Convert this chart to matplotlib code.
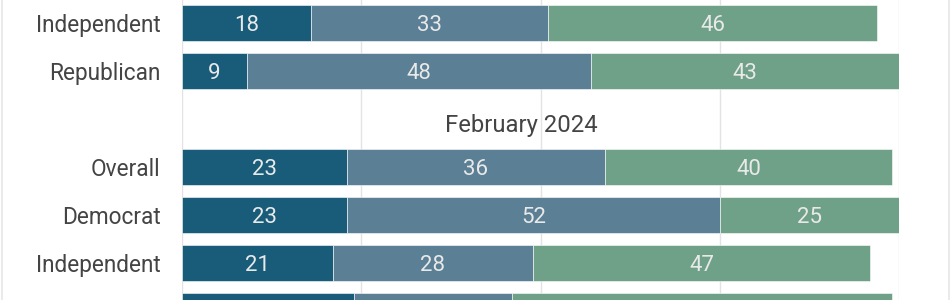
import matplotlib.pyplot as plt
from matplotlib.lines import Line2D

plt.rcParams['font.family'] = ['Roboto', 'DejaVu Sans']

# rows from top to bottom; None marks the section header row
rows = ['Independent', 'Republican', None, 'Overall', 'Democrat', 'Independent', 'Republican']
header = 'February 2024'
seg1 = [18, 9, None, 23, 23, 21, 24]
seg2 = [33, 48, None, 36, 52, 28, 22]
seg3 = [46, 43, None, 40, 25, 47, 53]

colors = ['#185c7a', '#5b7f94', '#6fa188']
txt_col = '#e9e9e9'
lab_col = '#444444'

fig = plt.figure(figsize=(9.5, 3), dpi=100)
ax = fig.add_axes([182 / 950, 0, 717 / 950, 1])

ax.set_xlim(0, 100)
ax.set_ylim((300 - 23) / 48, -23 / 48)

for x in [0, 25, 50, 75, 100]:
    ax.axvline(x, color='#e3e3e3', lw=1, zorder=0)

dy = 0.06  # text sits a little below bar centre
for i, name in enumerate(rows):
    if name is None:
        ax.text(47.3, i + 0.13, header, ha='center', va='center',
                fontsize=17.2, color=lab_col, zorder=1)
        continue
    left = 0
    for v, c in zip([seg1[i], seg2[i], seg3[i]], colors):
        ax.barh(i, v, left=left, height=0.76, color=c,
                edgecolor='#ffffff', linewidth=0.4, zorder=2)
        ax.text(left + v / 2, i + dy, str(v), ha='center', va='center',
                fontsize=16, color=txt_col, zorder=3)
        left += v
    ax.text(-3.0, i + dy, name, ha='right', va='center', fontsize=16.3,
            color=lab_col, clip_on=False)

ax.axis('off')

# light frame lines at the edges of the crop
fig.add_artist(Line2D([1.5 / 950, 1.5 / 950], [0, 1], color='#e6e6e6', lw=1.2))
fig.add_artist(Line2D([948.5 / 950, 948.5 / 950], [0, 1], color='#e6e6e6', lw=1.2))

fig.savefig('out.png', dpi=100, facecolor='white')
